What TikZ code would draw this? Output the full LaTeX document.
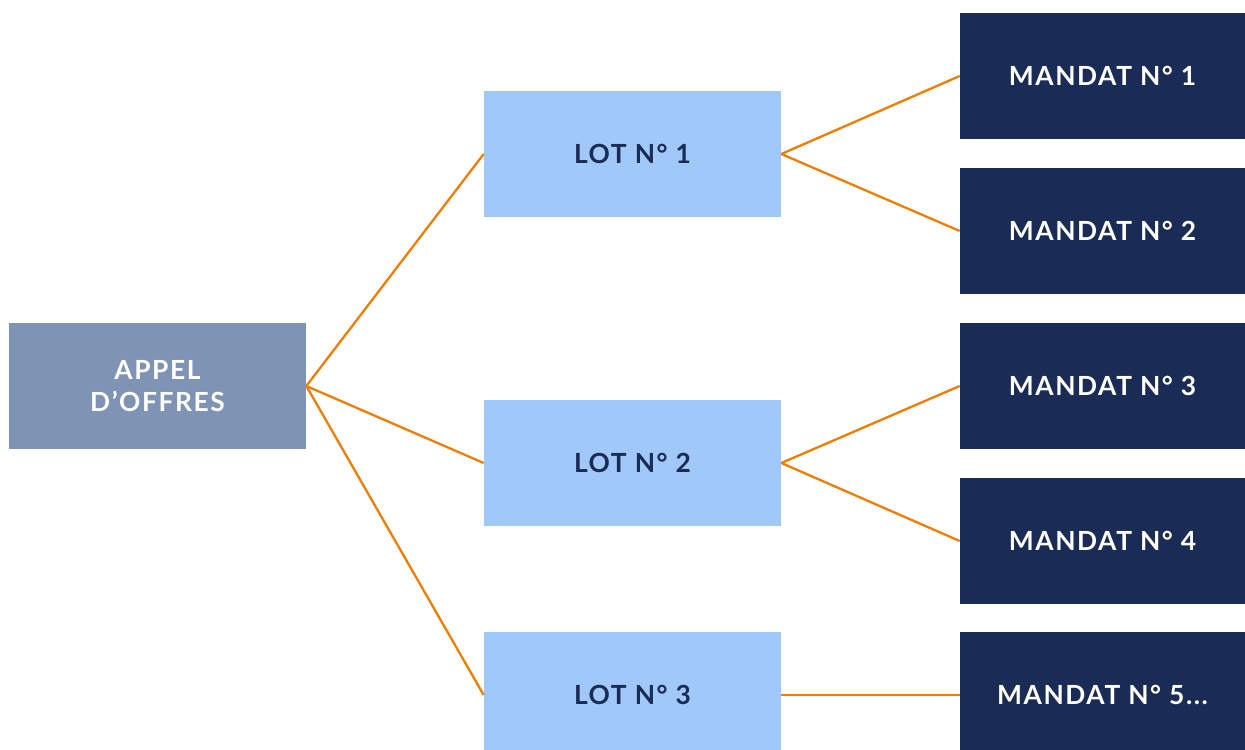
\documentclass[tikz,border=0pt]{standalone}
\usepackage{fontspec}
\setmainfont[LetterSpace=6]{Lato}
\definecolor{appelc}{HTML}{7F93B5}
\definecolor{lotc}{HTML}{A0C8F8}
\definecolor{mandatc}{HTML}{1A2B55}
\definecolor{linkc}{HTML}{F07D00}
\tikzset{
  appel/.style={fill=appelc,text=white,minimum width=5.94cm,minimum height=2.52cm,align=center,font=\fontsize{15}{18}\selectfont\bfseries},
  lot/.style={fill=lotc,text=mandatc,minimum width=5.94cm,minimum height=2.52cm,font=\fontsize{15}{18}\selectfont\bfseries},
  mandat/.style={fill=mandatc,text=white,minimum width=5.7cm,minimum height=2.52cm,font=\fontsize{15}{18}\selectfont\bfseries},
  link/.style={draw=linkc,line width=1.3pt}
}
\begin{document}
\begin{tikzpicture}[x=0.02cm,y=-0.02cm]
    \useasboundingbox (0,0) rectangle (1245,750);
    \node[appel] (ao) at (157.5,386) {APPEL\\D’OFFRES};
    \node[lot] (l1) at (632.5,154) {LOT N° 1};
    \node[lot] (l2) at (632.5,463) {LOT N° 2};
    \node[lot] (l3) at (632.5,695) {LOT N° 3};
    \node[mandat] (m1) at (1102.5,76) {MANDAT N° 1};
    \node[mandat] (m2) at (1102.5,231) {MANDAT N° 2};
    \node[mandat] (m3) at (1102.5,386) {MANDAT N° 3};
    \node[mandat] (m4) at (1102.5,541) {MANDAT N° 4};
    \node[mandat] (m5) at (1102.5,695) {MANDAT N° 5...};
    \draw[link] (ao.east)--(l1.west);
    \draw[link] (ao.east)--(l2.west);
    \draw[link] (ao.east)--(l3.west);
    \draw[link] (l1.east)--(m1.west);
    \draw[link] (l1.east)--(m2.west);
    \draw[link] (l2.east)--(m3.west);
    \draw[link] (l2.east)--(m4.west);
    \draw[link] (l3.east)--(m5.west);
\end{tikzpicture}
\end{document}
